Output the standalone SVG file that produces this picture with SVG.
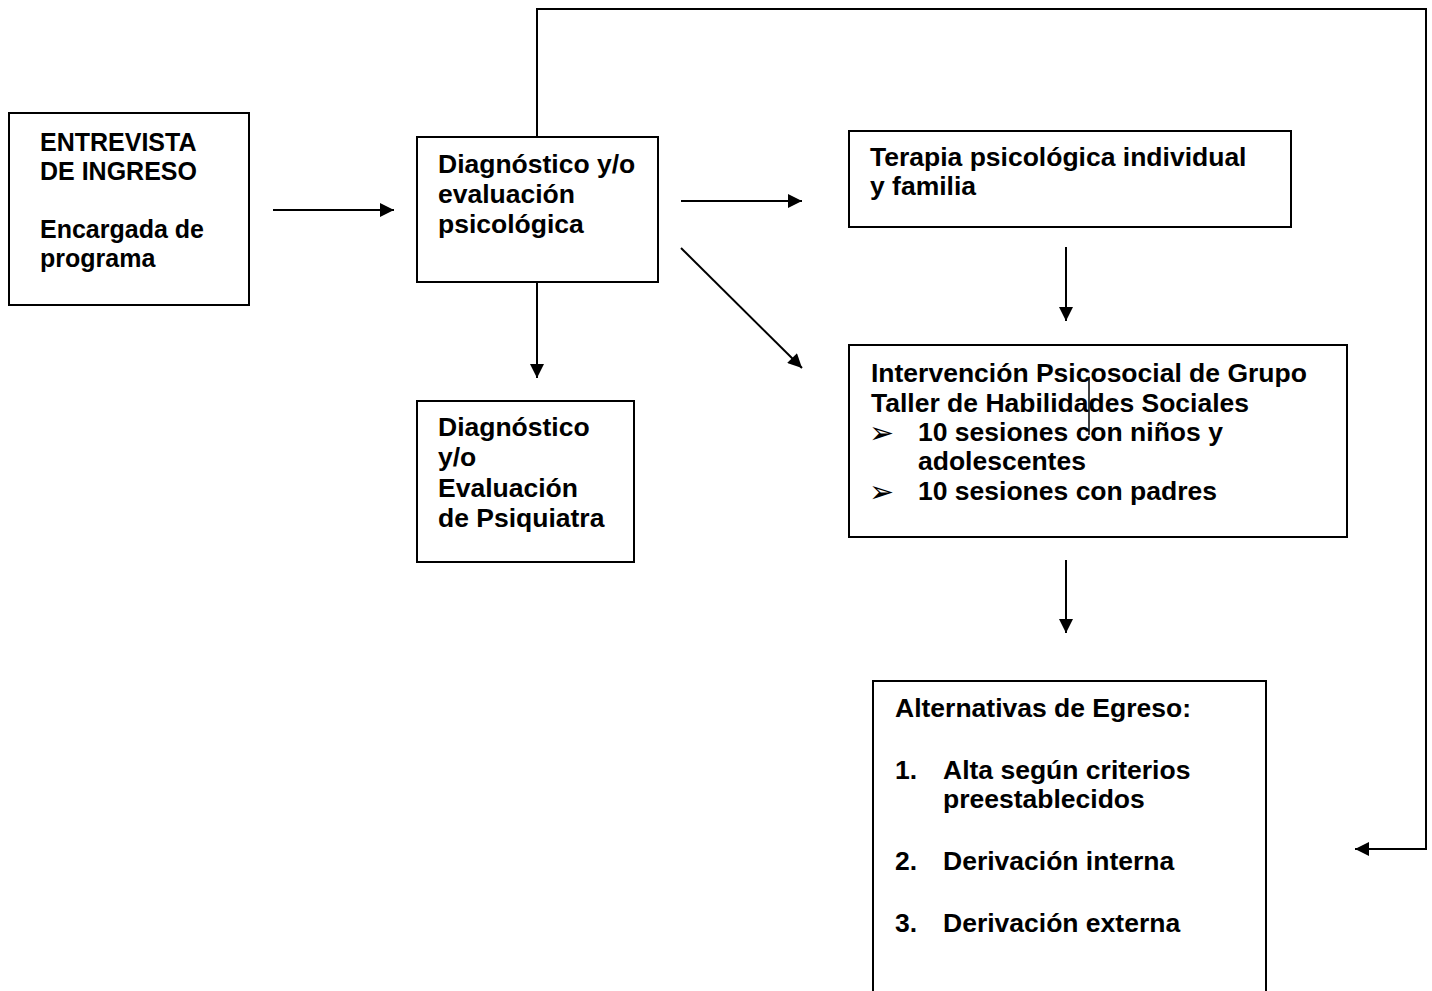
<svg xmlns="http://www.w3.org/2000/svg" width="1432" height="991" viewBox="0 0 1432 991">
  <style>
    .box { fill: #ffffff; stroke: #000000; stroke-width: 2; }
    .txt { font-family: "Liberation Sans", Arial, sans-serif; font-weight: bold; font-size: 26.5px; fill: #000000; }
    .sm { font-size: 25px; }
    .bul { font-family: "DejaVu Sans", sans-serif; font-size: 30px; fill: #000000; }
    .conn { fill: none; stroke: #000000; stroke-width: 2; }
  </style>
  <defs>
    <marker id="arrow" viewBox="0 0 10 10" refX="10" refY="5" markerWidth="8" markerHeight="7" markerUnits="strokeWidth" orient="auto">
      <path d="M0,0 L10,5 L0,10 Z" fill="#000000"/>
    </marker>
  </defs>
  <rect width="1432" height="991" fill="#ffffff"/>

  <!-- connectors -->
  <g id="connectors">
    <line class="conn" x1="273" y1="210" x2="394" y2="210" marker-end="url(#arrow)"/>
    <line class="conn" x1="681" y1="201" x2="802" y2="201" marker-end="url(#arrow)"/>
    <line class="conn" x1="681" y1="248" x2="802" y2="368" marker-end="url(#arrow)"/>
    <line class="conn" x1="537" y1="282" x2="537" y2="378" marker-end="url(#arrow)"/>
    <line class="conn" x1="1066" y1="247" x2="1066" y2="321" marker-end="url(#arrow)"/>
    <line class="conn" x1="1066" y1="560" x2="1066" y2="633" marker-end="url(#arrow)"/>
    <polyline class="conn" points="537,137 537,9 1426,9 1426,849 1355,849" marker-end="url(#arrow)"/>
  </g>

  <g id="entrevista">
    <rect class="box" x="9" y="113" width="240" height="192"/>
    <text class="txt sm" x="40" y="151">ENTREVISTA</text>
    <text class="txt sm" x="40" y="180">DE INGRESO</text>
    <text class="txt sm" x="40" y="238">Encargada de</text>
    <text class="txt sm" x="40" y="267">programa</text>
  </g>

  <g id="diagnostico-psicologico">
    <rect class="box" x="417" y="137" width="241" height="145"/>
    <text class="txt" x="438" y="173">Diagnóstico y/o</text>
    <text class="txt" x="438" y="203">evaluación</text>
    <text class="txt" x="438" y="233">psicológica</text>
  </g>

  <g id="diagnostico-psiquiatra">
    <rect class="box" x="417" y="401" width="217" height="161"/>
    <text class="txt" x="438" y="436">Diagnóstico</text>
    <text class="txt" x="438" y="466">y/o</text>
    <text class="txt" x="438" y="497">Evaluación</text>
    <text class="txt" x="438" y="527">de Psiquiatra</text>
  </g>

  <g id="terapia">
    <rect class="box" x="849" y="131" width="442" height="96"/>
    <text class="txt" x="870" y="166">Terapia psicológica individual</text>
    <text class="txt" x="870" y="195">y familia</text>
  </g>

  <g id="intervencion">
    <rect class="box" x="849" y="345" width="498" height="192"/>
    <text class="txt" x="871" y="382">Intervención Psicosocial de Grupo</text>
    <text class="txt" x="871" y="412">Taller de Habilidades Sociales</text>
    <text class="bul" x="869" y="443">➢</text>
    <text class="txt" x="918" y="441">10 sesiones con niños y</text>
    <text class="txt" x="918" y="470">adolescentes</text>
    <text class="bul" x="869" y="502">➢</text>
    <text class="txt" x="918" y="500">10 sesiones con padres</text>
    <line x1="1089" y1="377" x2="1089" y2="435" stroke="#000000" stroke-width="1.5"/>
  </g>

  <g id="egreso">
    <rect class="box" x="873" y="681" width="393" height="330"/>
    <text class="txt" x="895" y="717">Alternativas de Egreso:</text>
    <text class="txt" x="895" y="779">1.</text>
    <text class="txt" x="943" y="779">Alta según criterios</text>
    <text class="txt" x="943" y="808">preestablecidos</text>
    <text class="txt" x="895" y="870">2.</text>
    <text class="txt" x="943" y="870">Derivación interna</text>
    <text class="txt" x="895" y="932">3.</text>
    <text class="txt" x="943" y="932">Derivación externa</text>
  </g>
</svg>
